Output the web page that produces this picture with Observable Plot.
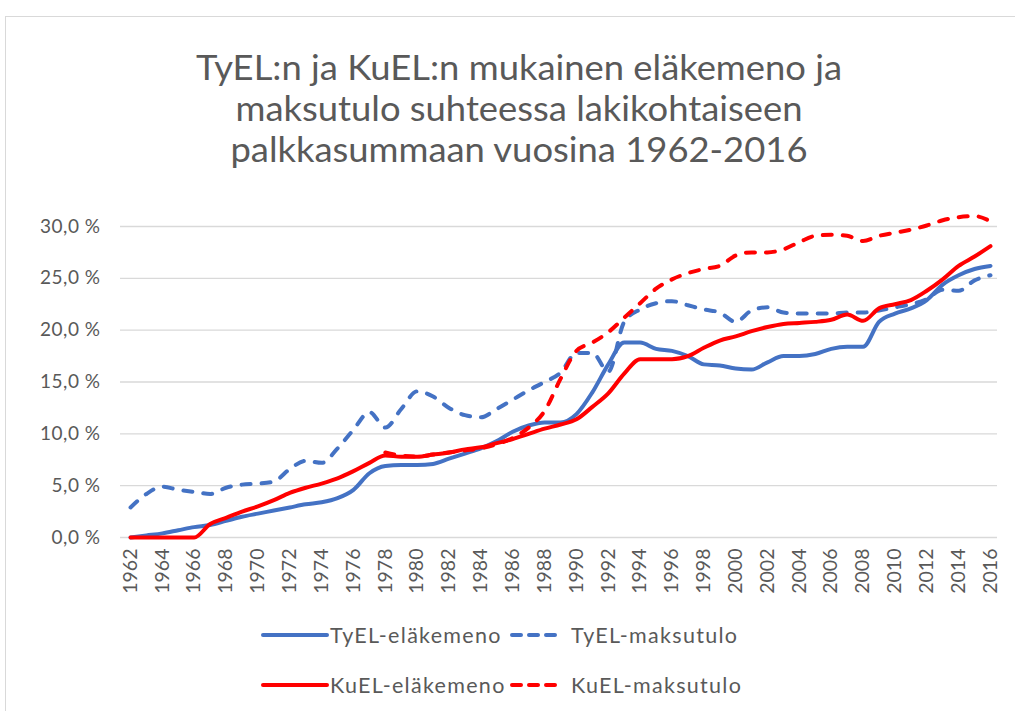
<!DOCTYPE html>
<html>
<head>
<meta charset="utf-8">
<script src="https://cdn.jsdelivr.net/npm/d3@7"></script>
<script src="https://cdn.jsdelivr.net/npm/@observablehq/plot@0.6"></script>
<style>
  html, body { margin: 0; padding: 0; background: #fff; }
  #wrap { position: relative; width: 1015px; height: 711px; overflow: hidden; font-family: Lato, "Open Sans", sans-serif; color: #595959; }
  #frame { position: absolute; left: 5px; top: 16px; width: 1040px; height: 720px; border: 1px solid #d9d9d9; box-sizing: border-box; }
  #title { position: absolute; left: 0; top: 46px; width: 1038px; text-align: center; font-size: 34px; line-height: 41px; color: #595959; transform: scaleX(1.07); transform-origin: 519px 0; }
  #chart { position: absolute; left: 0; top: 200px; }
  .leg { position: absolute; font-size: 21.5px; letter-spacing: 1.3px; color: #595959; line-height: 24px; white-space: nowrap; }
  .legline { position: absolute; }
  #chart svg g[aria-label="y-axis tick label"] text { letter-spacing: 0.5px; }
</style>
</head>
<body>
<div id="wrap">
  <div id="frame"></div>
  <div id="title">TyEL:n ja KuEL:n mukainen eläkemeno ja<br>maksutulo suhteessa lakikohtaiseen<br>palkkasummaan vuosina 1962-2016</div>
  <div id="chart"></div>
  <div id="legend"></div>
</div>
<script>
const years = [1962,1963,1964,1965,1966,1967,1968,1969,1970,1971,1972,1973,1974,1975,1976,1977,1978,1979,1980,1981,1982,1983,1984,1985,1986,1987,1988,1989,1990,1991,1992,1993,1994,1995,1996,1997,1998,1999,2000,2001,2002,2003,2004,2005,2006,2007,2008,2009,2010,2011,2012,2013,2014,2015,2016];

const tyelElakemeno = [0.0,0.2,0.4,0.7,1.0,1.2,1.6,2.0,2.3,2.6,2.9,3.2,3.4,3.8,4.6,6.2,6.9,7.0,7.0,7.1,7.6,8.1,8.6,9.3,10.2,10.8,11.1,11.1,11.9,14.0,16.7,18.8,18.8,18.2,18.0,17.5,16.7,16.6,16.3,16.2,16.9,17.5,17.5,17.7,18.2,18.4,18.4,20.8,21.6,22.1,22.9,24.4,25.3,25.9,26.2];

const tyelMaksutulo = [2.9,4.2,4.9,4.6,4.4,4.2,4.8,5.1,5.2,5.4,6.6,7.4,7.2,8.6,10.4,12.1,10.6,12.4,14.1,13.6,12.5,11.8,11.6,12.4,13.3,14.2,15.0,15.9,17.8,17.8,16.0,20.8,22.0,22.6,22.8,22.4,22.0,21.7,20.8,21.9,22.2,21.7,21.6,21.6,21.6,21.7,21.7,21.9,22.2,22.5,23.0,23.9,23.8,24.8,25.3];

const kuelElakemeno = [0.0,0.0,0.0,0.0,0.0,1.3,1.9,2.5,3.0,3.6,4.3,4.8,5.2,5.7,6.4,7.2,7.9,7.8,7.8,8.0,8.2,8.5,8.7,9.1,9.5,10.0,10.5,10.9,11.4,12.6,13.9,15.8,17.2,17.2,17.2,17.5,18.3,19.0,19.4,19.9,20.3,20.6,20.7,20.8,21.0,21.5,20.9,22.1,22.5,22.9,23.8,24.9,26.2,27.1,28.1];

const kuelMaksutulo = [null,null,null,null,null,null,null,null,null,null,null,null,null,null,null,null,8.2,7.9,7.8,8.0,8.2,8.4,8.6,9.0,9.6,10.6,12.2,15.3,18.0,18.8,19.8,21.2,22.6,24.0,24.9,25.5,25.9,26.2,27.2,27.5,27.5,27.8,28.5,29.1,29.2,29.1,28.6,29.1,29.4,29.7,30.1,30.6,30.9,31.0,30.5];

const seriesNames = ["TyEL-eläkemeno", "TyEL-maksutulo", "KuEL-eläkemeno", "KuEL-maksutulo"];
const seriesValues = [tyelElakemeno, tyelMaksutulo, kuelElakemeno, kuelMaksutulo];
const seriesColors = ["#4472C4", "#4472C4", "#FF0000", "#FF0000"];
const seriesDashed = [false, true, false, true];

const yTicks = [0, 5, 10, 15, 20, 25, 30];
const xTicks = [1962,1964,1966,1968,1970,1972,1974,1976,1978,1980,1982,1984,1986,1988,1990,1992,1994,1996,1998,2000,2002,2004,2006,2008,2010,2012,2014,2016];

const rowsFor = (i) => years.map((yr, j) => ({year: yr, value: seriesValues[i][j], series: seriesNames[i]}))
  .filter(d => d.value != null);

const lineMarks = seriesNames.map((name, i) => Plot.lineY(rowsFor(i), {
  x: "year", y: "value",
  stroke: seriesColors[i], strokeWidth: 4,
  strokeDasharray: seriesDashed[i] ? "9,11" : null,
  strokeLinecap: "round", strokeLinejoin: "round",
  curve: "monotone-x"
}));

const chart = Plot.plot({
  width: 1015, height: 420,
  marginLeft: 120, marginRight: 18, marginTop: 26, marginBottom: 83,
  x: {type: "linear", domain: [1961.37, 2016.44], label: null},
  y: {domain: [0, 30], label: null},
  style: {fontFamily: "Lato, 'Open Sans', sans-serif", color: "#595959", background: "transparent", overflow: "visible"},
  marks: [
    Plot.ruleY(yTicks, {stroke: "#d9d9d9", strokeWidth: 1.3}),
    Plot.axisY({ticks: yTicks, tickFormat: d => d.toFixed(1).replace(".", ",") + "\u00a0%", tickSize: 0, tickPadding: 20, fontSize: 19}),
    Plot.axisX({ticks: xTicks, tickFormat: d => String(d), tickRotate: -90, tickSize: 0, tickPadding: 11, fontSize: 19.5}),
    ...lineMarks
  ]
});
document.getElementById("chart").appendChild(chart);

// legend
const legend = document.getElementById("legend");
const legendPos = [
  {lx: 263, lw: 64, tx: 330, cy: 635},
  {lx: 512, lw: 44, tx: 571, cy: 635},
  {lx: 263, lw: 64, tx: 330, cy: 685},
  {lx: 512, lw: 44, tx: 571, cy: 685}
];
seriesNames.forEach((name, i) => {
  const p = legendPos[i];
  const svgNS = "http://www.w3.org/2000/svg";
  const svg = document.createElementNS(svgNS, "svg");
  svg.setAttribute("class", "legline");
  svg.setAttribute("width", p.lw + 4);
  svg.setAttribute("height", 10);
  svg.style.left = (p.lx - 2) + "px";
  svg.style.top = (p.cy - 5) + "px";
  const ln = document.createElementNS(svgNS, "line");
  ln.setAttribute("x1", 2); ln.setAttribute("x2", p.lw + 2);
  ln.setAttribute("y1", 5); ln.setAttribute("y2", 5);
  ln.setAttribute("stroke", seriesColors[i]);
  ln.setAttribute("stroke-width", 4);
  ln.setAttribute("stroke-linecap", "round");
  if (seriesDashed[i]) ln.setAttribute("stroke-dasharray", "9,8");
  svg.appendChild(ln);
  legend.appendChild(svg);
  const t = document.createElement("div");
  t.className = "leg";
  t.textContent = name;
  t.style.left = p.tx + "px";
  t.style.top = (p.cy - 12) + "px";
  legend.appendChild(t);
});
</script>
</body>
</html>
